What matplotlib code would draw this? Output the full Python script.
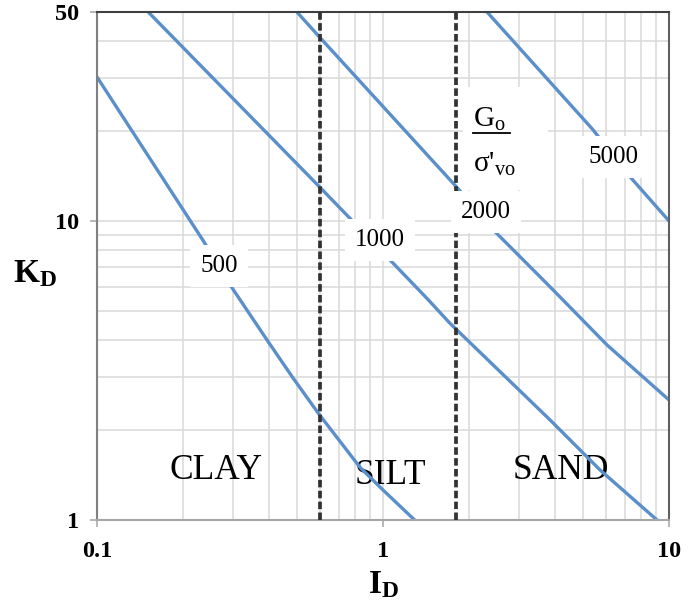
import matplotlib
matplotlib.use("Agg")
import matplotlib.pyplot as plt
from matplotlib.patches import Rectangle
from matplotlib.lines import Line2D
from matplotlib.ticker import FixedLocator, FixedFormatter, LogLocator, NullFormatter

plt.rcParams['font.family'] = ['Liberation Serif', 'DejaVu Serif']
plt.rcParams['mathtext.fontset'] = 'custom'
plt.rcParams['mathtext.rm'] = 'Liberation Serif'
plt.rcParams['mathtext.it'] = 'Liberation Serif:italic'
plt.rcParams['mathtext.bf'] = 'Liberation Serif:bold'

# curves of Go/sigma'vo (I_D, K_D)
id_500 = [0.1, 0.235, 0.292, 0.393, 0.484, 0.593, 0.831, 1.0, 1.29]
kd_500 = [30.3, 8.6, 6.11, 4.0, 2.99, 2.28, 1.50, 1.26, 1.0]
id_1000 = [0.151, 0.6, 0.767, 1.44, 1.71, 3.84, 5.74, 9.08]
kd_1000 = [50, 13.0, 10.2, 5.45, 4.56, 2.16, 1.47, 1.0]
id_2000 = [0.5, 0.6, 1.82, 2.47, 3.84, 6.07, 10]
kd_2000 = [50, 41.2, 12.9, 9.19, 6.02, 3.85, 2.52]
id_5000 = [2.31, 5.42, 7.19, 10]
kd_5000 = [50, 20.2, 14.3, 10.0]

curve_names = ["500", "1000", "2000", "5000"]
label_x = [0.267, 0.976, 2.29, 6.37]
label_y = [7.07, 8.64, 10.7, 16.4]

boundaries = [0.6, 1.8]
soils = ["CLAY", "SILT", "SAND"]
soil_x = [0.26, 1.06, 4.19]
soil_y = [1.46, 1.41, 1.46]

x_ticks = [0.1, 1, 10]
x_labels = ["0.1", "1", "10"]
y_ticks = [1, 10, 50]
y_labels = ["1", "10", "50"]

blue = "#5b8fca"

fig = plt.figure(figsize=(6.94, 6.08), dpi=100)
ax = fig.add_axes([0.1398, 0.1447, 0.8242, 0.8356])
ax.set_xscale("log")
ax.set_yscale("log")
ax.set_xlim(0.1, 10)
ax.set_ylim(1, 50)

# grid
ax.xaxis.set_minor_locator(LogLocator(base=10, subs=range(2, 10)))
ax.yaxis.set_minor_locator(LogLocator(base=10, subs=range(2, 10)))
ax.xaxis.set_minor_formatter(NullFormatter())
ax.yaxis.set_minor_formatter(NullFormatter())
ax.grid(True, which="both", color="#d9d9d9", lw=1.1, zorder=0)
ax.set_axisbelow(True)

# soil names sit under the curves
for s, sx, sy in zip(soils, soil_x, soil_y):
    ax.text(sx, sy, s, fontsize=25.5, ha="center", va="center", zorder=1.5)

for xs, ys in [(id_500, kd_500), (id_1000, kd_1000), (id_2000, kd_2000), (id_5000, kd_5000)]:
    ax.plot(xs, ys, color=blue, lw=2.4, zorder=2)

for b in boundaries:
    ln = ax.axvline(b, color="#333333", lw=2.7, zorder=3)
    ln.set_dashes((2.0, 0.9))

for name, lx, ly in zip(curve_names, label_x, label_y):
    ax.text(lx, ly, name, fontsize=18, ha="center", va="center", zorder=5,
            bbox=dict(boxstyle="square,pad=0.4", fc="white", ec="none"))

# Go / sigma'vo legend text
ax.add_patch(Rectangle((0.640, 0.650), 0.149, 0.202, transform=ax.transAxes,
                       fc="white", ec="none", zorder=4))
ax.text(0.657, 0.762, "G$_{\\mathrm{o}}$", transform=ax.transAxes, fontsize=21,
        ha="left", va="bottom", zorder=5)
ax.add_line(Line2D([0.657, 0.722], [0.762, 0.762], transform=ax.transAxes,
                   color="black", lw=1.3, zorder=5))
ax.text(0.657, 0.699, "σ'$_{\\mathrm{vo}}$", transform=ax.transAxes, fontsize=21,
        ha="left", va="center", zorder=5)

# ticks
ax.xaxis.set_major_locator(FixedLocator(x_ticks))
ax.xaxis.set_major_formatter(FixedFormatter(x_labels))
ax.yaxis.set_major_locator(FixedLocator(y_ticks))
ax.yaxis.set_major_formatter(FixedFormatter(y_labels))
ax.tick_params(axis="both", which="minor", length=0)
ax.tick_params(axis="x", which="major", length=5, width=1.2, color="#aaaaaa",
               pad=10, labelsize=17.5)
ax.tick_params(axis="y", which="major", length=5, width=1.2, color="#aaaaaa",
               pad=8, labelsize=17.5)
for lab in ax.get_xticklabels() + ax.get_yticklabels():
    lab.set_fontweight("bold")

ax.spines["left"].set_color("#808080")
ax.spines["bottom"].set_color("#a6a6a6")
ax.spines["top"].set_color("#404040")
ax.spines["right"].set_color("#606060")
for sp in ax.spines.values():
    sp.set_linewidth(1.5)

ax.set_xlabel("I$_{\\mathbf{D}}$", fontsize=24, fontweight="bold", va="center")
ax.set_ylabel("K$_{\\mathbf{D}}$", fontsize=24, fontweight="bold", rotation=0,
              ha="center", va="center")
ax.xaxis.set_label_coords(0.5, -0.128)
ax.yaxis.set_label_coords(-0.108, 0.484)

fig.savefig("out.png", dpi=100)
